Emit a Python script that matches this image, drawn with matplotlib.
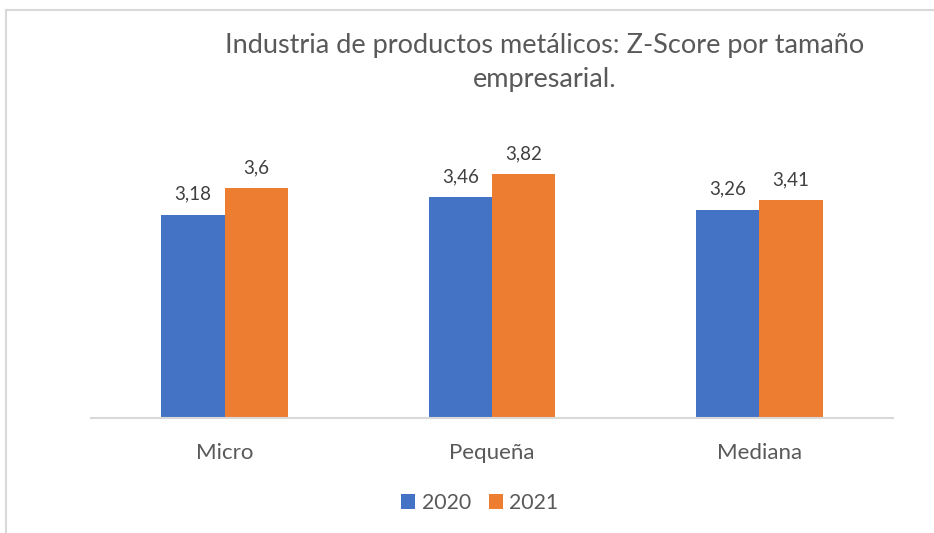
import matplotlib
matplotlib.use("Agg")
import matplotlib.pyplot as plt
from matplotlib.lines import Line2D
import numpy as np

categories = ["Micro", "Pequeña", "Mediana"]
series_names = ["2020", "2021"]
values_2020 = [3.18, 3.46, 3.26]
values_2021 = [3.6, 3.82, 3.41]
labels_2020 = ["3,18", "3,46", "3,26"]
labels_2021 = ["3,6", "3,82", "3,41"]
title = "Industria de productos metálicos: Z-Score por tamaño\nempresarial."

plt.rcParams['font.family'] = ['Lato', 'DejaVu Sans']

W, H = 934, 533
fig = plt.figure(figsize=(W / 100, H / 100), dpi=100)
fig.patch.set_facecolor("white")

# outer frame (left and top lines)
frame_color = "#d9d9d9"
fig.add_artist(Line2D([5.5 / W, 5.5 / W], [0, 1 - 10 / H], transform=fig.transFigure, color=frame_color, lw=1.5))
fig.add_artist(Line2D([5.5 / W, 1], [1 - 10 / H, 1 - 10 / H], transform=fig.transFigure, color=frame_color, lw=1.5))

left, right, base, top = 91, 893, 418, 130.5
ax = fig.add_axes([left / W, (H - base) / H, (right - left) / W, (base - top) / H])

x = np.arange(len(categories))
bw = 0.2375
blue = "#4472c4"
orange = "#ed7d31"
b1 = ax.bar(x - bw / 2, values_2020, bw, color=blue, label=series_names[0])
b2 = ax.bar(x + bw / 2, values_2021, bw, color=orange, label=series_names[1])

lab_color = "#404040"
for bars, labs in ((b1, labels_2020), (b2, labels_2021)):
    for rect, lab in zip(bars, labs):
        ax.annotate(lab, (rect.get_x() + rect.get_width() / 2, rect.get_height()),
                    xytext=(0, 15), textcoords="offset pixels", ha="center", va="baseline",
                    fontsize=13.5, color=lab_color)

ax.set_xlim(-0.5, 2.5)
ax.set_ylim(0, 4.5)
ax.set_yticks([])
ax.set_xticks(x)
ax.set_xticklabels(categories, fontsize=16, color="#595959")
ax.tick_params(axis="x", length=0, pad=18)
for s in ["top", "right", "left"]:
    ax.spines[s].set_visible(False)
ax.spines["bottom"].set_color("#d9d9d9")
ax.spines["bottom"].set_linewidth(1.5)

fig.text(545 / W, 1 - 53 / H, title.split("\n")[0], ha="center", va="baseline", fontsize=19.5,
         color="#595959")
fig.text(545 / W, 1 - 87 / H, title.split("\n")[1], ha="center", va="baseline", fontsize=19.5,
         color="#595959")

leg = fig.legend(handles=[b1, b2], labels=series_names, loc="center",
                 bbox_to_anchor=(480 / W, 1 - 503 / H), ncol=2, frameon=False,
                 fontsize=15.3, handlelength=0.66, handleheight=0.66,
                 handletextpad=0.3, columnspacing=0.85, labelcolor="#595959")

fig.savefig("out.png", dpi=100, facecolor="white")
